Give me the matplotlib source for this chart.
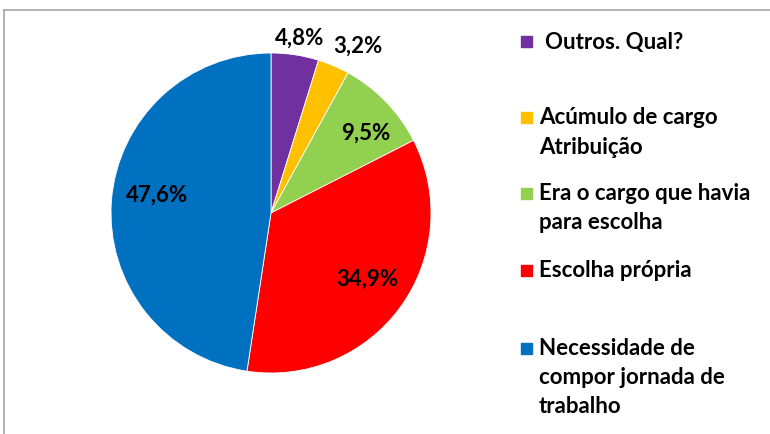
import matplotlib
matplotlib.use('Agg')
import matplotlib.pyplot as plt
import matplotlib.patches as mpatches
from matplotlib.lines import Line2D

plt.rcParams['font.family'] = ['Lato', 'DejaVu Sans']

labels = ['Outros. Qual?',
          'Acúmulo de cargo\nAtribuição',
          'Era o cargo que havia\npara escolha',
          'Escolha própria',
          'Necessidade de\ncompor jornada de\ntrabalho']
values = [4.8, 3.2, 9.5, 34.9, 47.6]
colors = ['#7030A0', '#FFC000', '#92D050', '#FF0000', '#0070C0']

W, H = 770, 435
cx, cy, r = 271, 214, 160

# label positions (pixels) and legend rows (pixels)
pct_pos = [(300, 38), (358, 46), (366, 133), (367, 279), (157, 195)]
legend_y = [42, 118, 194, 271, 349]
legend_tx = [545, 539, 539, 539, 539]
line_step = 29

fig = plt.figure(figsize=(W / 100, H / 100), dpi=100)
ax = fig.add_axes([(cx - r) / W, (H - cy - r) / H, 2 * r / W, 2 * r / H])

wedges, _ = ax.pie(values, colors=colors, startangle=90, counterclock=False,
                   wedgeprops=dict(edgecolor='white', linewidth=0.6))
ax.set_xlim(-1, 1)
ax.set_ylim(-1, 1)
ax.set_aspect('auto')

for v, (px, py) in zip(values, pct_pos):
    fig.text(px / W, 1 - py / H, ('%.1f%%' % v).replace('.', ','),
             ha='center', va='center', fontsize=16, fontweight='bold')

# legend drawn by hand
for lab, col, y0, tx in zip(labels, colors, legend_y, legend_tx):
    fig.patches.append(mpatches.Rectangle((521 / W, 1 - (y0 + 6) / H),
                                          11 / W, 11 / H, color=col,
                                          transform=fig.transFigure))
    for i, line in enumerate(lab.split('\n')):
        fig.text(tx / W, 1 - (y0 + i * line_step) / H, line, ha='left',
                 va='center', fontsize=16, fontweight='bold')

# frame
fig.add_artist(Line2D([4 / W, 1], [1 - 11 / H, 1 - 11 / H], color='#A6A6A6',
                      lw=1.2, transform=fig.transFigure))
fig.add_artist(Line2D([4 / W, 4 / W], [0, 1 - 11 / H], color='#A6A6A6',
                      lw=1.2, transform=fig.transFigure))

plt.savefig('out.png', dpi=100)
